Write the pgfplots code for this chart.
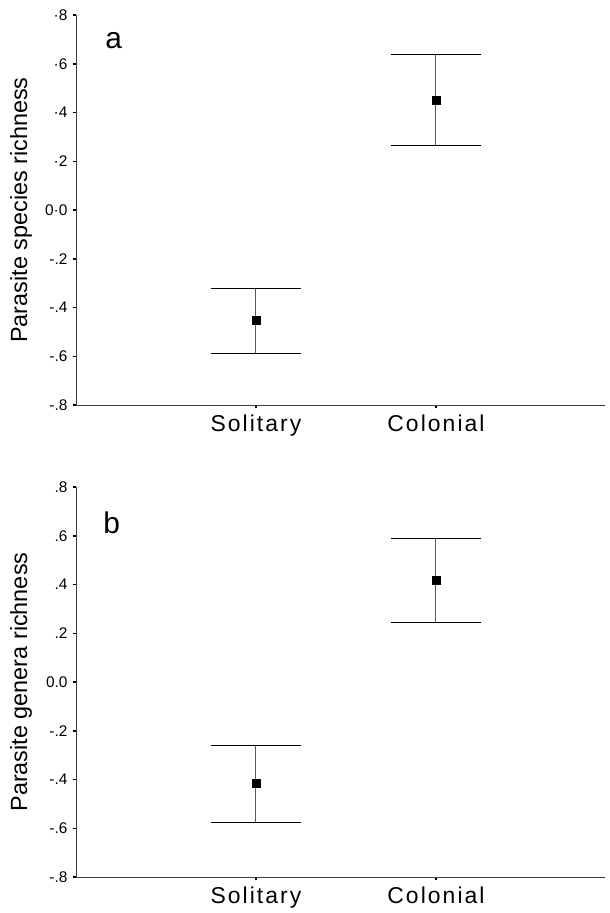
\documentclass[border=0pt]{standalone}
\usepackage{fontspec}
\setmainfont{Liberation Sans}
\usepackage{pgfplots}
\pgfplotsset{compat=1.18}
\pgfplotsset{panel/.style={
  scale only axis, width=529bp, height=390bp,
  xmin=0, xmax=2.939, ymin=-0.8, ymax=0.8,
  axis x line*=bottom, axis y line*=left,
  axis line style={-, black!75, line width=0.8bp},
  xtick={1,2}, xticklabels={Solitary, Colonial},
  ytick={-0.8,-0.6,-0.4,-0.2,0,0.2,0.4,0.6,0.8},
  tick align=outside, major tick length=3bp,
  tick style={black, line width=1.5bp},
  xticklabel style={font=\fontsize{23}{23}\selectfont\addfontfeature{LetterSpace=9}, yshift=-3bp},
  yticklabel style={font=\fontsize{15.5}{15.5}\selectfont, xshift=-2bp},
  ylabel style={font=\fontsize{23.5}{23.5}\selectfont, at={(axis description cs:-0.0926,0.5)}, anchor=base},
  clip=false,
}}
\begin{document}
\begin{tikzpicture}
\useasboundingbox (-76bp,-508bp) rectangle (534bp,405bp);
\begin{axis}[panel, at={(0,0)}, anchor=south west,
  yticklabels={-.8,-.6,-.4,-.2,0·0,·2,·4,·6,·8},
  ylabel={Parasite species richness}]
\addplot[only marks, mark=square*, mark size=4bp, mark options={draw=black, fill=black},
  error bars/.cd, y dir=both, y explicit, error mark=|,
  error mark options={black, mark size=45bp, line width=1bp},
  error bar style={line width=1bp, black!65}]
coordinates {
 (1,-0.453) += (0,0.131) -= (0,0.135)
 (2,0.449) += (0,0.188) -= (0,0.184)
};
\node[anchor=base west, font=\fontsize{30}{30}\selectfont] at (rel axis cs:0.049,0.913) {a};
\end{axis}
\begin{axis}[panel, at={(0,-472bp)}, anchor=south west,
  yticklabels={-.8,-.6,-.4,-.2,0.0,.2,.4,.6,.8},
  ylabel={Parasite genera richness}]
\addplot[only marks, mark=square*, mark size=4bp, mark options={draw=black, fill=black},
  error bars/.cd, y dir=both, y explicit, error mark=|,
  error mark options={black, mark size=45bp, line width=1bp},
  error bar style={line width=1bp, black!65}]
coordinates {
 (1,-0.416) += (0,0.155) -= (0,0.160)
 (2,0.416) += (0,0.174) -= (0,0.171)
};
\node[anchor=base west, font=\fontsize{30}{30}\selectfont] at (rel axis cs:0.045,0.882) {b};
\end{axis}
\end{tikzpicture}
\end{document}
